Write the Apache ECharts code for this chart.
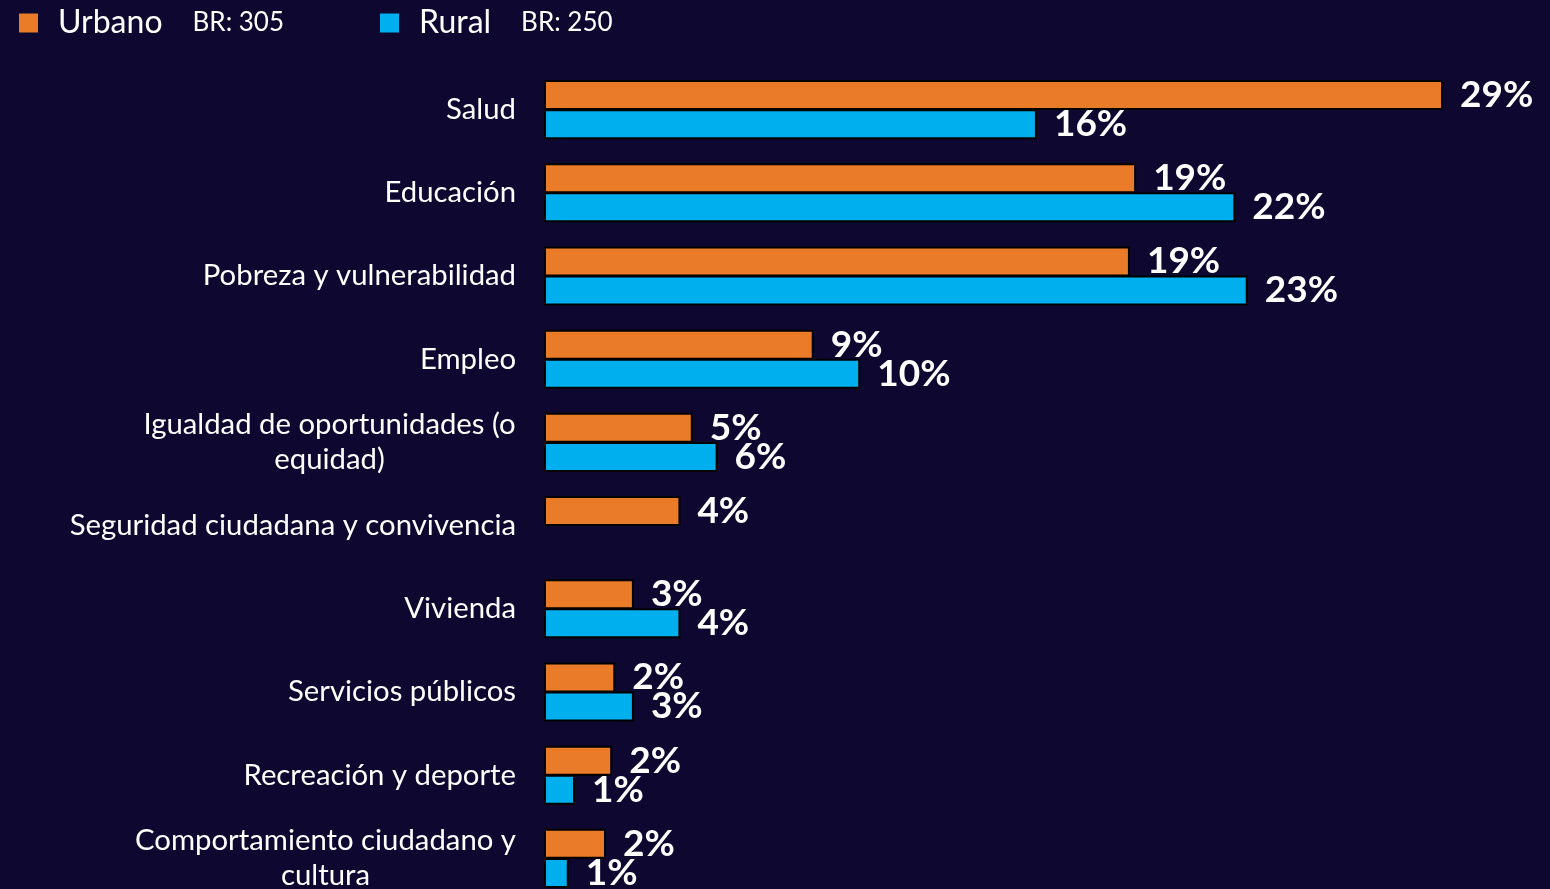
<!DOCTYPE html>
<html>
<head>
<meta charset="utf-8">
<script src="https://cdn.jsdelivr.net/npm/echarts@6/dist/echarts.min.js"></script>
<style>
  html, body { margin: 0; padding: 0; background: #0e0830; }
  #chart { width: 1550px; height: 889px; }
</style>
</head>
<body>
<div id="chart"></div>
<script>
// Temas prioritarios por zona (porcentaje de menciones)
const categories = [
  'Salud',
  'Educación',
  'Pobreza y vulnerabilidad',
  'Empleo',
  'Igualdad de oportunidades (o\nequidad)',
  'Seguridad ciudadana y convivencia',
  'Vivienda',
  'Servicios públicos',
  'Recreación y deporte',
  'Comportamiento ciudadano y\ncultura'
];
const urbano = [29, 19.1, 18.9, 8.7, 4.8, 4.4, 2.9, 2.3, 2.2, 2.0];
const rural  = [15.9, 22.3, 22.7, 10.2, 5.6, null, 4.4, 2.9, 1.0, 0.8];
const seriesNames = ['Urbano', 'Rural'];
const baseLabels = ['BR: 305', 'BR: 250'];

const FONT = 'Lato, "Open Sans", sans-serif';
const CAT_SIZE = 29.3;

// Width of the longest line of a label, so wrapped lines can be centred under it
const measureCtx = document.createElement('canvas').getContext('2d');
measureCtx.font = CAT_SIZE + 'px ' + FONT;
function blockWidth(text) {
  return Math.ceil(Math.max(...text.split('\n').map(l => measureCtx.measureText(l).width)));
}

// One rich style per wrapped label, each as wide as its own longest line
const catRich = {};
categories.forEach((c, i) => {
  if (c.indexOf('\n') >= 0) {
    catRich['c' + i] = {
      fontFamily: FONT, fontSize: CAT_SIZE, color: '#ffffff',
      lineHeight: 35, align: 'center', width: blockWidth(c)
    };
  }
});

const chart = echarts.init(document.getElementById('chart'));

const labelCfg = {
  show: true,
  position: 'right',
  distance: 17,
  color: '#ffffff',
  fontFamily: FONT,
  fontWeight: 'bold',
  fontSize: 37,
  formatter: p => Math.round(p.value) + '%'
};

chart.setOption({
  backgroundColor: '#0e0830',
  animation: false,
  legend: {
    left: 14,
    top: 2,
    itemWidth: 19,
    itemHeight: 19,
    itemGap: 96,
    icon: 'rect',
    itemStyle: { borderWidth: 0 },
    data: seriesNames,
    formatter: name => {
      const i = seriesNames.indexOf(name);
      return '{n|' + name + '}{b|' + baseLabels[i] + '}';
    },
    textStyle: {
      color: '#ffffff',
      fontFamily: FONT,
      rich: {
        n: { fontSize: 32, fontFamily: FONT, color: '#ffffff', padding: [0, 30, 0, 15] },
        b: { fontSize: 26, fontFamily: FONT, color: '#ffffff' }
      }
    }
  },
  grid: {
    left: 544,
    right: 0,
    top: 68,
    height: 832,
    containLabel: false,
    outerBoundsMode: 'none'
  },
  xAxis: {
    type: 'value',
    min: 0,
    max: 32.45,
    show: false
  },
  yAxis: {
    type: 'category',
    inverse: true,
    data: categories,
    axisLine: { show: false },
    axisTick: { show: false },
    splitLine: { show: false },
    axisLabel: {
      color: '#ffffff',
      fontFamily: FONT,
      fontSize: CAT_SIZE,
      margin: 28,
      align: 'right',
      lineHeight: 35,
      formatter: (value, index) => {
        if (value.indexOf('\n') < 0) return value;
        return value.split('\n').map(l => '{c' + index + '|' + l + '}').join('\n');
      },
      rich: catRich
    }
  },
  series: [
    {
      name: 'Urbano',
      type: 'bar',
      data: urbano,
      barWidth: 30,
      barGap: '-3%',
      itemStyle: { color: '#ea7b28', borderColor: '#000000', borderWidth: 2 },
      label: labelCfg
    },
    {
      name: 'Rural',
      type: 'bar',
      data: rural,
      barWidth: 30,
      itemStyle: { color: '#00b0ee', borderColor: '#000000', borderWidth: 2 },
      label: labelCfg
    }
  ]
});
</script>
</body>
</html>
